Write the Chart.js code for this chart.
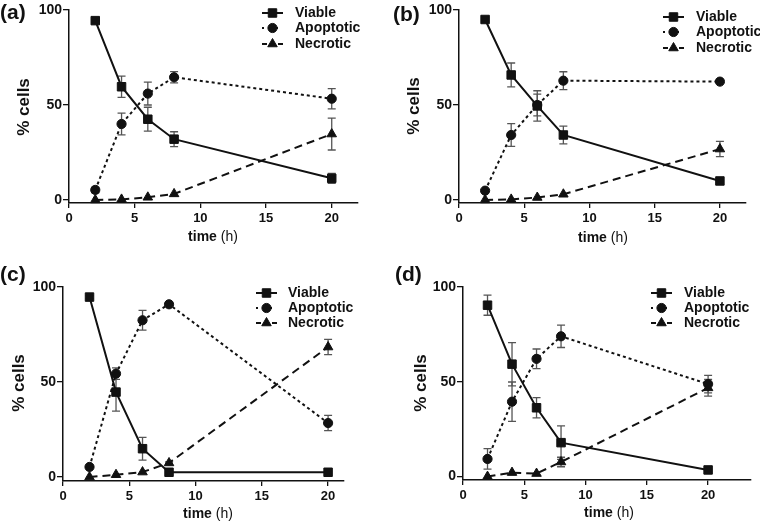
<!DOCTYPE html>
<html>
<head>
<meta charset="utf-8">
<script src="https://cdn.jsdelivr.net/npm/chart.js@4/dist/chart.umd.min.js"></script>
<style>
  body { margin: 0; background: #fff; }
  .panel { position: absolute; width: 380px; height: 261px; }
</style>
</head>
<body>
<div class="panel" style="left:0;top:0"><canvas id="ca"></canvas></div>
<div class="panel" style="left:380px;top:0"><canvas id="cb"></canvas></div>
<div class="panel" style="left:0;top:261px"><canvas id="cc"></canvas></div>
<div class="panel" style="left:380px;top:261px"><canvas id="cd"></canvas></div>
<script>
// data (% cells vs time in h)
const time = [2, 4, 6, 8, 20];
const xTicks = [0, 5, 10, 15, 20];
const yTicks = [0, 50, 100];
const seriesNames = ['Viable', 'Apoptotic', 'Necrotic'];

const aViable = [94.4, 59.6, 42.5, 32, 11.4];
const aViableErr = [1, 5.6, 6.3, 3.9, 2.6];
const aApoptotic = [5.3, 40, 56, 64.6, 53.3];
const aApoptoticErr = [1.5, 5.7, 6, 3, 5.3];
const aNecrotic = [0, 0.3, 1.4, 3.2, 34.7];
const aNecroticErr = [0, 0, 0, 0, 8.4];

const bViable = [95, 65.8, 49.5, 34.2, 10];
const bViableErr = [0.8, 6.3, 8, 4.7, 1.5];
const bApoptotic = [4.9, 34.2, 50, 62.8, 62.3];
const bApoptoticErr = [0.5, 6, 5.7, 4.7, 0];
const bNecrotic = [0, 0.3, 1.3, 3, 26.8];
const bNecroticErr = [0, 0, 0, 0, 4];

const cViable = [94.7, 44.7, 14.9, 2.5, 2.5];
const cViableErr = [0.8, 10, 6, 0.5, 0.5];
const cApoptotic = [5.3, 54.4, 82.5, 90.9, 28.4];
const cApoptoticErr = [0.5, 3, 5.2, 0.5, 4];
const cNecrotic = [0, 1.2, 2.6, 7.4, 68.4];
const cNecroticErr = [0, 0, 0, 0.5, 4];

const dViable = [90.4, 59.3, 36.3, 17.9, 3.5];
const dViableErr = [5.3, 11.4, 5.3, 8.8, 0.5];
const dApoptotic = [9.3, 39.5, 62.1, 74, 48.8];
const dApoptoticErr = [5.4, 10.4, 5.2, 5.9, 4.6];
const dNecrotic = [0, 2.1, 1.6, 7.7, 46.8];
const dNecroticErr = [0, 0, 0, 2.5, 4.4];

const FONT = "'Liberation Sans', Arial, sans-serif";
const INK = '#111';

// line style per series
const styles = [
  { dash: [], pointStyle: 'rect', radius: 6, legendDash: [] },
  { dash: [3, 3], pointStyle: 'circle', radius: 4.6, legendDash: [2, 5] },
  { dash: [8, 5], pointStyle: 'triangle', radius: 5.5, legendDash: [5, 3] }
];

const panelDecor = {
  id: 'panelDecor',
  beforeDatasetsDraw(chart) {
    // error bars
    const ctx = chart.ctx;
    const ys = chart.scales.y;
    ctx.save();
    ctx.strokeStyle = '#555';
    ctx.lineWidth = 1.3;
    chart.data.datasets.forEach((ds, i) => {
      const meta = chart.getDatasetMeta(i);
      meta.data.forEach((pt, j) => {
        const e = ds.errors[j];
        if (!e) return;
        const v = ds.data[j].y;
        const y1 = ys.getPixelForValue(v + e);
        const y2 = ys.getPixelForValue(v - e);
        ctx.beginPath();
        ctx.moveTo(pt.x, y1); ctx.lineTo(pt.x, y2);
        ctx.moveTo(pt.x - 4, y1); ctx.lineTo(pt.x + 4, y1);
        ctx.moveTo(pt.x - 4, y2); ctx.lineTo(pt.x + 4, y2);
        ctx.stroke();
      });
    });
    ctx.restore();
  },
  afterDraw(chart, args, opts) {
    const ctx = chart.ctx;
    ctx.save();
    ctx.fillStyle = INK;
    // panel tag
    ctx.font = 'bold 21px ' + FONT;
    ctx.textBaseline = 'middle';
    ctx.textAlign = 'left';
    ctx.fillText(opts.tag, opts.tagPos[0], opts.tagPos[1]);
    // y title
    ctx.save();
    ctx.translate(opts.yTitle[0], opts.yTitle[1]);
    ctx.rotate(-Math.PI / 2);
    ctx.font = 'bold 17px ' + FONT;
    ctx.textAlign = 'center';
    ctx.fillText('% cells', 0, 0);
    ctx.restore();
    // x title: "time" bold + " (h)" regular
    ctx.font = 'bold 14px ' + FONT;
    const w1 = ctx.measureText('time').width;
    ctx.font = '14px ' + FONT;
    const w2 = ctx.measureText(' (h)').width;
    let x = opts.xTitle[0] - (w1 + w2) / 2;
    ctx.textAlign = 'left';
    ctx.font = 'bold 14px ' + FONT;
    ctx.fillText('time', x, opts.xTitle[1]);
    ctx.font = '14px ' + FONT;
    ctx.fillText(' (h)', x + w1, opts.xTitle[1]);
    // legend
    const lg = opts.legend;
    chart.data.datasets.forEach((ds, i) => {
      const y = lg.rows[i];
      ctx.strokeStyle = INK;
      ctx.lineWidth = 2;
      ctx.setLineDash(styles[i].legendDash);
      ctx.beginPath();
      ctx.moveTo(lg.x0, y); ctx.lineTo(lg.x1, y);
      ctx.stroke();
      ctx.setLineDash([]);
      ctx.fillStyle = INK;
      ctx.lineWidth = 1;
      Chart.helpers.drawPoint(ctx, {
        pointStyle: ds.pointStyle, radius: ds.pointRadius, rotation: 0, borderWidth: 1
      }, (lg.x0 + lg.x1) / 2, y);
      ctx.font = 'bold 14px ' + FONT;
      ctx.textAlign = 'left';
      ctx.fillText(ds.label, lg.text, y);
    });
    ctx.restore();
  }
};

function makeDatasets(values, errors) {
  return values.map((vals, i) => ({
    label: seriesNames[i],
    data: time.map((t, j) => ({ x: t, y: vals[j] })),
    errors: errors[i],
    borderColor: INK,
    backgroundColor: INK,
    borderWidth: 2,
    borderDash: styles[i].dash,
    pointStyle: styles[i].pointStyle,
    pointRadius: styles[i].radius,
    pointBorderWidth: 1,
    pointBackgroundColor: INK,
    pointBorderColor: INK,
    tension: 0,
    clip: false
  }));
}

function makeChart(id, values, errors, g) {
  new Chart(document.getElementById(id), {
    type: 'line',
    data: { datasets: makeDatasets(values, errors) },
    plugins: [panelDecor],
    options: {
      responsive: true,
      maintainAspectRatio: false,
      animation: false,
      layout: { padding: { left: 0, top: g.T, right: 380 - g.R, bottom: 0 } },
      plugins: {
        legend: { display: false },
        tooltip: { enabled: false },
        panelDecor: g
      },
      scales: {
        x: {
          type: 'linear',
          min: 0,
          max: g.xMax,
          afterFit: s => { s.height = 261 - g.B; },
          afterBuildTicks: s => { s.ticks = xTicks.map(v => ({ value: v })); },
          grid: { drawOnChartArea: false, drawTicks: true, tickLength: 5, color: INK, lineWidth: 1.3 },
          border: { display: true, color: INK, width: 1.5 },
          ticks: { color: INK, padding: 3, maxRotation: 0, font: { family: FONT, size: 13, weight: 'bold' } }
        },
        y: {
          min: g.yMin,
          max: 100,
          afterFit: s => { s.width = g.L; },
          afterBuildTicks: s => { s.ticks = yTicks.map(v => ({ value: v })); },
          grid: { drawOnChartArea: false, drawTicks: true, tickLength: 6, color: INK, lineWidth: 1.3 },
          border: { display: true, color: INK, width: 1.5 },
          ticks: { color: INK, padding: 1, font: { family: FONT, size: 14, weight: 'bold' } }
        }
      }
    }
  });
}

makeChart('ca', [aViable, aApoptotic, aNecrotic], [aViableErr, aApoptoticErr, aNecroticErr], {
  L: 69, R: 358, T: 10, B: 203, xMax: 22, yMin: -1.6,
  tag: '(a)', tagPos: [0, 13], yTitle: [24, 107], xTitle: [213, 237],
  legend: { x0: 262, x1: 283, text: 295, rows: [13, 28, 44] }
});
makeChart('cb', [bViable, bApoptotic, bNecrotic], [bViableErr, bApoptoticErr, bNecroticErr], {
  L: 79, R: 366, T: 10, B: 203, xMax: 22, yMin: -1.6,
  tag: '(b)', tagPos: [13, 15], yTitle: [34, 106], xTitle: [223, 238],
  legend: { x0: 283, x1: 304, text: 316, rows: [17, 32, 48] }
});
makeChart('cc', [cViable, cApoptotic, cNecrotic], [cViableErr, cApoptoticErr, cNecroticErr], {
  L: 63, R: 344, T: 26, B: 220, xMax: 21.2, yMin: -2.1,
  tag: '(c)', tagPos: [0, 14], yTitle: [19, 122], xTitle: [208, 253],
  legend: { x0: 256, x1: 277, text: 288, rows: [32, 47, 62] }
});
makeChart('cd', [dViable, dApoptotic, dNecrotic], [dViableErr, dApoptoticErr, dNecroticErr], {
  L: 83, R: 371, T: 26, B: 219, xMax: 23.5, yMin: -1.8,
  tag: '(d)', tagPos: [15, 14], yTitle: [41, 122], xTitle: [229, 252],
  legend: { x0: 271, x1: 292, text: 304, rows: [32, 47, 62] }
});
</script>
</body>
</html>
